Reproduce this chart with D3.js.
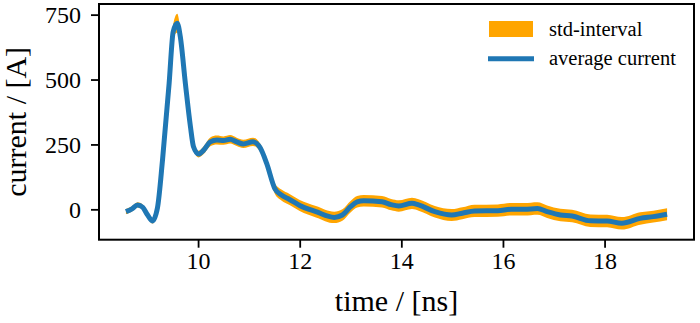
<!DOCTYPE html>
<html>
<head>
<meta charset="utf-8">
<script src="https://cdn.jsdelivr.net/npm/d3@7"></script>
<style>
  html, body { margin: 0; padding: 0; background: #fff; }
  svg { display: block; }
  svg text { font-family: "Liberation Serif", "Times New Roman", serif !important; fill: #000; }
</style>
</head>
<body>
<svg id="chart" width="700" height="323"></svg>
<script>
// ---- data ----
const times = [8.58, 8.70, 8.81, 8.91, 9.00, 9.10, 9.20, 9.30, 9.43, 9.51, 9.59, 9.65, 9.75, 9.85, 9.91,
  10.01, 10.11, 10.24, 10.37, 10.50, 10.63, 10.76, 10.89, 11.08, 11.22, 11.35, 11.51, 11.64, 11.80,
  12.00, 12.32, 12.68, 12.84, 13.00, 13.13, 13.26, 13.62, 13.80, 13.95, 14.21, 14.34, 14.66, 14.99,
  15.20, 15.44, 15.90, 16.16, 16.42, 16.68, 16.87, 17.13, 17.36, 17.72, 18.05, 18.34, 18.70, 18.96, 19.23];
const meanCurrent = [-9, 2, 17, 8, -20, -45, 5, 190, 485, 684, 717, 665, 485, 318, 241,
  213, 228, 260, 267, 265, 270, 260, 252, 260, 238, 177, 80, 55, 38,
  15, -9, -31, -22, 10, 29, 33, 29, 18, 13, 23, 17, -9, -22,
  -15, -6, -5, 0, 0, 3, -9, -22, -26, -44, -45, -54, -35, -28, -19];
const stdCurrent = [10, 10, 10, 10, 10, 10, 10, 12, 18, 28, 36, 30, 20, 14, 12,
  13, 15, 17, 17, 16, 16, 16, 16, 16, 16, 18, 20, 21, 21,
  21, 22, 22, 22, 22, 22, 22, 22, 22, 22, 22, 22, 22, 23,
  23, 24, 24, 24, 24, 24, 24, 24, 24, 24, 24, 24, 24, 23, 23];
const xTicks = [10, 12, 14, 16, 18];
const yTicks = [0, 250, 500, 750];
const legendLabels = ["std-interval", "average current"];
const xLabel = "time / [ns]";
const yLabel = "current / [A]";

// ---- layout ----
const FONT = '"Liberation Serif", "Times New Roman", serif';
const plot = { left: 99, right: 694, top: 4, bottom: 239.7 };
const svg = d3.select("#chart");

const x = d3.scaleLinear().domain([8.05, 19.76]).range([plot.left, plot.right]);
const y = d3.scaleLinear().domain([-117, 791]).range([plot.bottom, plot.top]);

const data = times.map((t, i) => ({ t, m: meanCurrent[i], s: stdCurrent[i] }));

svg.append("clipPath").attr("id", "clip")
  .append("rect").attr("x", plot.left).attr("y", plot.top)
  .attr("width", plot.right - plot.left).attr("height", plot.bottom - plot.top);

const g = svg.append("g").attr("clip-path", "url(#clip)");

g.append("path")
  .datum(data)
  .attr("fill", "#FFA500")
  .attr("d", d3.area().curve(d3.curveMonotoneX)
    .x(d => x(d.t)).y0(d => y(d.m - d.s)).y1(d => y(d.m + d.s)));

g.append("path")
  .datum(data)
  .attr("fill", "none")
  .attr("stroke", "#1f77b4")
  .attr("stroke-width", 5)
  .attr("stroke-linejoin", "round")
  .attr("stroke-linecap", "butt")
  .attr("d", d3.line().curve(d3.curveMonotoneX).x(d => x(d.t)).y(d => y(d.m)));

// axes
const xAxis = svg.append("g").attr("transform", `translate(0,${plot.bottom})`)
  .call(d3.axisBottom(x).tickValues(xTicks).tickFormat(d3.format("d")).tickSize(8).tickPadding(4));
const yAxis = svg.append("g").attr("transform", `translate(${plot.left},0)`)
  .call(d3.axisLeft(y).tickValues(yTicks).tickFormat(d3.format("d")).tickSize(8).tickPadding(10));
[xAxis, yAxis].forEach(a => {
  a.attr("font-family", FONT).attr("font-size", 24);
  a.select(".domain").remove();
  a.selectAll(".tick line").attr("stroke", "#000").attr("stroke-width", 1.8);
  a.selectAll(".tick text").attr("font-family", FONT).attr("font-size", 24).attr("fill", "#000");
});

// frame
svg.append("rect")
  .attr("x", plot.left).attr("y", plot.top)
  .attr("width", plot.right - plot.left).attr("height", plot.bottom - plot.top)
  .attr("fill", "none").attr("stroke", "#000").attr("stroke-width", 2);

// axis labels
svg.append("text")
  .attr("x", (plot.left + plot.right) / 2).attr("y", 311)
  .attr("text-anchor", "middle").attr("font-family", FONT).attr("font-size", 30).text(xLabel);
svg.append("text")
  .attr("transform", `translate(26,${(plot.top + plot.bottom) / 2}) rotate(-90)`)
  .attr("text-anchor", "middle").attr("font-family", FONT).attr("font-size", 30).text(yLabel);

// legend
const lg = svg.append("g").attr("font-family", FONT);
lg.append("rect").attr("x", 489).attr("y", 21).attr("width", 44).attr("height", 16).attr("fill", "#FFA500");
lg.append("line").attr("x1", 488).attr("x2", 534).attr("y1", 58.7).attr("y2", 58.7)
  .attr("stroke", "#1f77b4").attr("stroke-width", 5);
lg.append("text").attr("x", 549).attr("y", 36).attr("font-size", 20.5).text(legendLabels[0]);
lg.append("text").attr("x", 549).attr("y", 65).attr("font-size", 20.5).text(legendLabels[1]);
</script>
</body>
</html>
